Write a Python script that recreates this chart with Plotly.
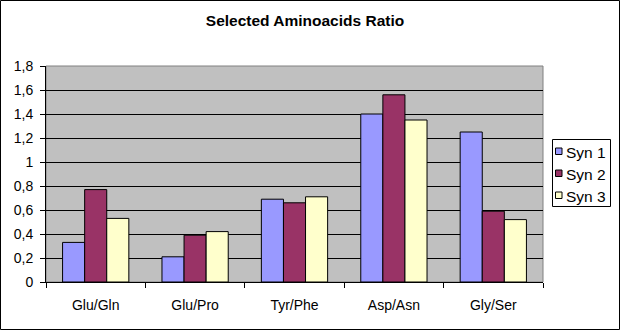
import plotly.graph_objects as go

# Ratios per amino-acid pair for each synthesis
categories = ["Glu/Gln", "Glu/Pro", "Tyr/Phe", "Asp/Asn", "Gly/Ser"]
syn1 = [0.33, 0.21, 0.69, 1.40, 1.25]
syn2 = [0.77, 0.39, 0.66, 1.56, 0.59]
syn3 = [0.53, 0.42, 0.71, 1.35, 0.52]
series_names = ["Syn 1", "Syn 2", "Syn 3"]
series_colors = ["#9999FF", "#993366", "#FFFFCC"]

W, H = 620, 330
L, R, T, B = 46, 77, 66, 48
pw = W - L - R
ph = H - T - B
FONT = "Arial, Liberation Sans, sans-serif"


def px_x(px):
    return (px - L) / pw


def px_y(py):
    return (H - B - py) / ph


fig = go.Figure()
for name, vals, col in zip(series_names, [syn1, syn2, syn3], series_colors):
    fig.add_trace(go.Bar(
        x=categories, y=vals, name=name, showlegend=False,
        marker=dict(color=col, line=dict(color="black", width=1)),
    ))

shapes = [
    # outer chart border
    dict(type="rect", xref="paper", yref="paper",
         x0=px_x(0.5), x1=px_x(W - 0.5), y0=px_y(H - 0.5), y1=px_y(0.5),
         line=dict(color="black", width=1), fillcolor="rgba(0,0,0,0)"),
    # plot area border
    dict(type="rect", xref="paper", yref="paper", x0=0, x1=1, y0=0, y1=1,
         line=dict(color="#808080", width=1), fillcolor="rgba(0,0,0,0)",
         layer="below"),
    # legend box
    dict(type="rect", xref="paper", yref="paper",
         x0=px_x(552.5), x1=px_x(610.5), y0=px_y(206.5), y1=px_y(139.5),
         line=dict(color="black", width=1), fillcolor="white"),
]
annotations = []
row_y = [151, 173, 195]
for name, col, cy in zip(series_names, series_colors, row_y):
    shapes.append(dict(
        type="rect", xref="paper", yref="paper",
        x0=px_x(555.5), x1=px_x(562), y0=px_y(cy + 3.5), y1=px_y(cy - 3),
        line=dict(color="black", width=1), fillcolor=col))
    annotations.append(dict(
        text=name, xref="paper", yref="paper", x=px_x(563.5), y=px_y(cy + 1),
        xanchor="left", yanchor="middle", showarrow=False,
        font=dict(family=FONT, size=15.5, color="black")))

fig.update_layout(
    width=W, height=H,
    margin=dict(l=L, r=R, t=T, b=B),
    paper_bgcolor="white",
    plot_bgcolor="#C0C0C0",
    separators=", ",
    font=dict(family=FONT, size=14, color="black"),
    barmode="group",
    bargap=1.5 / 4.5,
    bargroupgap=0,
    showlegend=False,
    title=dict(
        text="<b>Selected Aminoacids Ratio</b>",
        x=305 / W, xref="container", xanchor="center",
        y=1 - 21 / H, yref="container", yanchor="middle",
        font=dict(family=FONT, size=15.5, color="black"),
    ),
    xaxis=dict(
        showgrid=False, showline=True, linecolor="black", linewidth=1,
        ticks="outside", tickson="boundaries", ticklen=5, tickcolor="black",
        tickfont=dict(family=FONT, size=14, color="black"),
        ticklabelstandoff=10, fixedrange=True,
    ),
    yaxis=dict(
        range=[0, 1.8], dtick=0.2, tick0=0,
        showgrid=True, gridcolor="black", gridwidth=1,
        showline=True, linecolor="black", linewidth=1,
        ticks="outside", ticklen=5, tickcolor="black",
        tickfont=dict(family=FONT, size=14, color="black"),
        ticklabelstandoff=4, zeroline=False, fixedrange=True,
    ),
    shapes=shapes,
    annotations=annotations,
)

fig.write_html("out.html")
